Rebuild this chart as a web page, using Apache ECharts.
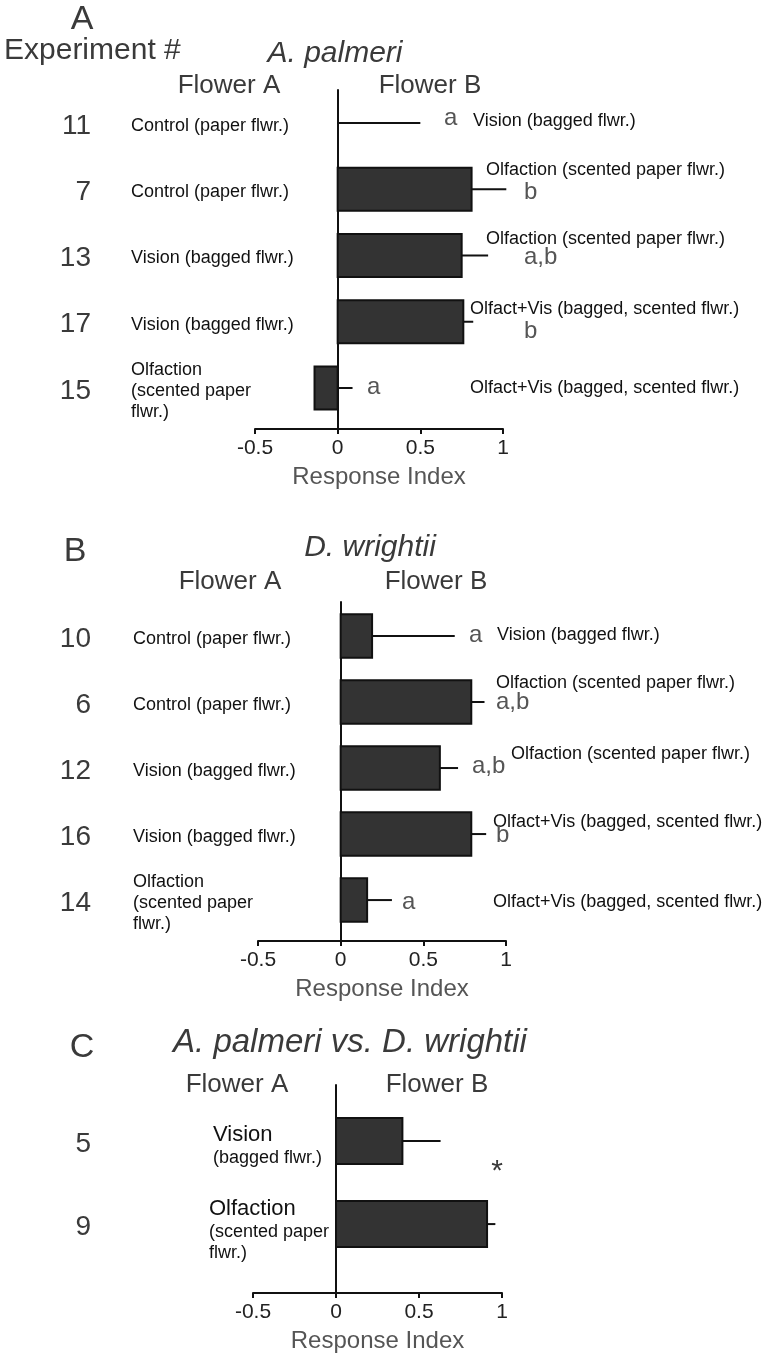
<!DOCTYPE html>
<html><head><meta charset="utf-8">
<script src="https://cdn.jsdelivr.net/npm/echarts@6/dist/echarts.min.js"></script>
<style>html,body{margin:0;padding:0;background:#fff}#c{width:768px;height:1359px}</style>
</head><body><div id="c"></div>
<script>
// ================= DATA =================
const tickValues = [-0.5, 0, 0.5, 1];
const axisName = 'Response Index';
const headerExp = 'Experiment #';
const headerFlowerA = 'Flower A';
const headerFlowerB = 'Flower B';

// Panel A – A. palmeri
const letterA = 'A';
const titleA = 'A. palmeri';
const expA = ['11', '7', '13', '17', '15'];
const flowerA_A = ['Control (paper flwr.)', 'Control (paper flwr.)', 'Vision (bagged flwr.)', 'Vision (bagged flwr.)', 'Olfaction\n(scented paper\nflwr.)'];
const flowerB_A = ['Vision (bagged flwr.)', 'Olfaction (scented paper flwr.)', 'Olfaction (scented paper flwr.)', 'Olfact+Vis (bagged, scented flwr.)', 'Olfact+Vis (bagged, scented flwr.)'];
const valuesA = [0, 0.81, 0.75, 0.76, -0.14];
const errorsA = [0.50, 0.21, 0.16, 0.06, 0.23];
const sigA = ['a', 'b', 'a,b', 'b', 'a'];

// Panel B – D. wrightii
const letterB = 'B';
const titleB = 'D. wrightii';
const expB = ['10', '6', '12', '16', '14'];
const flowerA_B = ['Control (paper flwr.)', 'Control (paper flwr.)', 'Vision (bagged flwr.)', 'Vision (bagged flwr.)', 'Olfaction\n(scented paper\nflwr.)'];
const flowerB_B = ['Vision (bagged flwr.)', 'Olfaction (scented paper flwr.)', 'Olfaction (scented paper flwr.)', 'Olfact+Vis (bagged, scented flwr.)', 'Olfact+Vis (bagged, scented flwr.)'];
const valuesB = [0.19, 0.79, 0.60, 0.79, 0.16];
const errorsB = [0.50, 0.08, 0.11, 0.09, 0.15];
const sigB = ['a', 'a,b', 'a,b', 'b', 'a'];

// Panel C – A. palmeri vs. D. wrightii
const letterC = 'C';
const titleC = 'A. palmeri vs. D. wrightii';
const expC = ['5', '9'];
const flowerA_C_main = ['Vision', 'Olfaction'];
const flowerA_C_sub = ['(bagged flwr.)', '(scented paper\nflwr.)'];
const valuesC = [0.40, 0.91];
const errorsC = [0.23, 0.05];
const sigC = '*';

// ================= LAYOUT / STYLE =================
const FONT = '"Liberation Sans", Arial, Helvetica, sans-serif';
const DARK = '#3a3a3a';
const INK = '#111';

const panels = [
  {
    grid: {left: 255, width: 248, top: 90, height: 339},
    yMin: -0.498, yMax: 4.619, barFrac: 0.65,
    exp: expA, flowerA: flowerA_A, flowerB: flowerB_A, values: valuesA, errors: errorsA, sig: sigA,
    numX: 91, labelAX: 131, textDy: 3,
    labelB: [[473, -2], [486, -19], [486, -16], [470, -13], [470, 0]],
    sigPos: [[444, -5], [524, 3], [524, 2], [524, 10], [367, -1]],
    heads: {letter: [letterA, 82, 20, 34], title: [titleA, 335, 54, 30], fa: 229, fb: 430, fy: 86}
  },
  {
    grid: {left: 258, width: 248, top: 602, height: 339},
    yMin: -0.515, yMax: 4.62, barFrac: 0.66,
    exp: expB, flowerA: flowerA_B, flowerB: flowerB_B, values: valuesB, errors: errorsB, sig: sigB,
    numX: 91, labelAX: 133, textDy: 3,
    labelB: [[497, -1], [496, -19], [511, -14], [493, -12], [493, 2]],
    sigPos: [[469, -1], [496, 0], [472, -2], [496, 1], [402, 2]],
    heads: {letter: [letterB, 75, 552, 34], title: [titleB, 370, 548, 30], fa: 230, fb: 436, fy: 582}
  },
  {
    grid: {left: 253, width: 249, top: 1085, height: 208},
    yMin: -0.675, yMax: 1.83, barFrac: 0.554,
    exp: expC, flowerAMain: flowerA_C_main, flowerASub: flowerA_C_sub, values: valuesC, errors: errorsC,
    numX: 91, labelAX: [213, 209], textDy: [4, 6],
    star: [sigC, 497, 1172],
    heads: {letter: [letterC, 82, 1048, 34], title: [titleC, 350, 1043, 33], fa: 237, fb: 437, fy: 1085}
  }
];

function makeSeries(p, gi) {
  return {
    type: 'custom',
    xAxisIndex: gi, yAxisIndex: gi,
    clip: false,
    data: p.values.map((v, i) => [v, i, p.errors[i]]),
    encode: {x: 0, y: 1},
    renderItem: function (params, api) {
      const i = params.dataIndex;
      const v = api.value(0), row = api.value(1), e = api.value(2);
      const zero = api.coord([0, row]);
      const end = api.coord([v, row]);
      const errEnd = api.coord([v + e, row]);
      const bh = api.size([0, 1])[1] * p.barFrac;
      const cy = zero[1];
      const ch = [];
      ch.push({type: 'line', z2: 1, shape: {x1: end[0], y1: cy, x2: errEnd[0], y2: cy},
        style: {stroke: INK, lineWidth: 2}});
      if (v !== 0) {
        ch.push({type: 'rect', z2: 2, shape: {x: Math.min(zero[0], end[0]), y: cy - bh / 2, width: Math.abs(end[0] - zero[0]), height: bh},
          style: {fill: '#333333', stroke: INK, lineWidth: 2}});
      }
      const dy = Array.isArray(p.textDy) ? p.textDy[i] : p.textDy;
      ch.push({type: 'text', style: {text: p.exp[i], x: p.numX, y: cy + 3, align: 'right', verticalAlign: 'middle',
        fontSize: 28, fontFamily: FONT, fill: DARK}});
      if (p.flowerA) {
        ch.push({type: 'text', style: {text: p.flowerA[i], x: p.labelAX, y: cy + dy, align: 'left', verticalAlign: 'middle',
          fontSize: 18, lineHeight: 21, fontFamily: FONT, fill: INK}});
      } else {
        ch.push({type: 'text', style: {
          text: '{m|' + p.flowerAMain[i] + '}\n' + p.flowerASub[i].split('\n').map(s => '{s|' + s + '}').join('\n'),
          x: p.labelAX[i], y: cy + dy, align: 'left', verticalAlign: 'middle', fontFamily: FONT, fill: INK,
          rich: {m: {fontSize: 22, lineHeight: 25, fontFamily: FONT, fill: INK}, s: {fontSize: 18, lineHeight: 21, fontFamily: FONT, fill: INK}}
        }});
      }
      if (p.flowerB) {
        ch.push({type: 'text', style: {text: p.flowerB[i], x: p.labelB[i][0], y: cy + p.labelB[i][1], align: 'left', verticalAlign: 'middle',
          fontSize: 18, fontFamily: FONT, fill: INK}});
      }
      if (p.sig) {
        ch.push({type: 'text', style: {text: p.sig[i], x: p.sigPos[i][0], y: cy + p.sigPos[i][1], align: 'left', verticalAlign: 'middle',
          fontSize: 24, fontFamily: FONT, fill: '#555'}});
      }
      return {type: 'group', children: ch};
    }
  };
}

const grids = [], xAxes = [], yAxes = [], series = [], graphics = [];
panels.forEach((p, gi) => {
  grids.push(Object.assign({containLabel: false}, p.grid));
  xAxes.push({
    type: 'value', gridIndex: gi,
    min: tickValues[0], max: tickValues[tickValues.length - 1], interval: 0.5,
    axisLine: {onZero: false, lineStyle: {color: INK, width: 2}},
    axisTick: {show: true, length: 5, lineStyle: {color: INK, width: 2}},
    axisLabel: {fontSize: 21, color: '#222', fontFamily: FONT, margin: 9},
    splitLine: {show: false},
    name: axisName, nameLocation: 'middle', nameGap: 36,
    nameTextStyle: {fontSize: 24, color: '#555', fontFamily: FONT}
  });
  yAxes.push({
    type: 'value', gridIndex: gi, inverse: true, min: p.yMin, max: p.yMax,
    axisLine: {show: true, onZero: true, lineStyle: {color: INK, width: 2}},
    axisTick: {show: false}, axisLabel: {show: false}, splitLine: {show: false}
  });
  series.push(makeSeries(p, gi));
  const h = p.heads;
  graphics.push({type: 'text', style: {text: h.letter[0], x: h.letter[1], y: h.letter[2], align: 'center', verticalAlign: 'middle', fontSize: h.letter[3], fontFamily: FONT, fill: DARK}});
  graphics.push({type: 'text', style: {text: h.title[0], x: h.title[1], y: h.title[2], align: 'center', verticalAlign: 'middle', fontSize: h.title[3], fontStyle: 'italic', fontFamily: FONT, fill: DARK}});
  graphics.push({type: 'text', style: {text: headerFlowerA, x: h.fa, y: h.fy, align: 'center', verticalAlign: 'middle', fontSize: 26, fontFamily: FONT, fill: DARK}});
  graphics.push({type: 'text', style: {text: headerFlowerB, x: h.fb, y: h.fy, align: 'center', verticalAlign: 'middle', fontSize: 26, fontFamily: FONT, fill: DARK}});
  if (p.star) {
    graphics.push({type: 'text', style: {text: p.star[0], x: p.star[1], y: p.star[2], align: 'center', verticalAlign: 'middle', fontSize: 30, fontFamily: FONT, fill: DARK}});
  }
});
graphics.push({type: 'text', style: {text: headerExp, x: 4, y: 51, align: 'left', verticalAlign: 'middle', fontSize: 30, fontFamily: FONT, fill: DARK}});

const chart = echarts.init(document.getElementById('c'), null, {renderer: 'canvas'});
chart.setOption({
  animation: false,
  backgroundColor: '#fff',
  grid: grids, xAxis: xAxes, yAxis: yAxes, series: series,
  graphic: graphics
});
</script></body></html>
